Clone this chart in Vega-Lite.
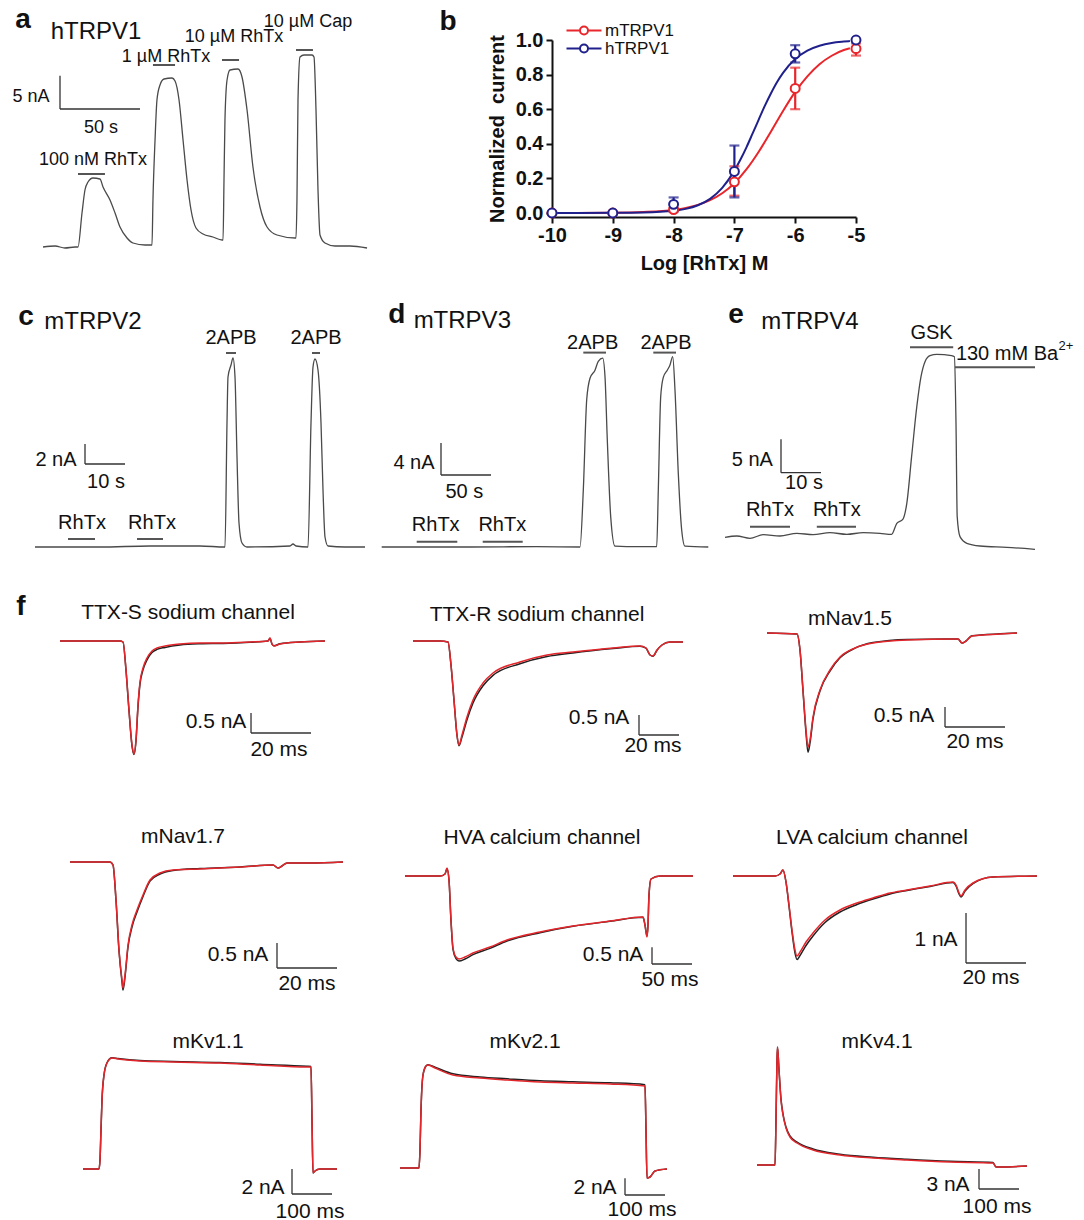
{
"$schema":"https://vega.github.io/schema/vega-lite/v6.json",
"background":"white",
"padding":0,
"spacing":0,
"datasets":{
"a_tr":[{"t":1.9,"i":0.15},{"t":9.4,"i":0.3},{"t":15.6,"i":0},{"t":21.9,"i":0.15},{"t":23.75,"i":0.15},{"t":26.25,"i":5.25},{"t":28.1,"i":8.7},{"t":30,"i":9.9},{"t":33.1,"i":10.5},{"t":37.5,"i":10.35},{"t":39.4,"i":9.15},{"t":43.75,"i":7.2},{"t":46.9,"i":5.25},{"t":50,"i":3.15},{"t":54.4,"i":1.5},{"t":58.1,"i":0.75},{"t":65.6,"i":0.45},{"t":70,"i":0.45},{"t":70.6,"i":7.2},{"t":71.9,"i":16.2},{"t":73.1,"i":22.2},{"t":75,"i":24.45},{"t":77.5,"i":25.35},{"t":82.5,"i":25.5},{"t":84.4,"i":25.05},{"t":86.9,"i":22.2},{"t":89.4,"i":16.2},{"t":91.9,"i":10.2},{"t":94.4,"i":5.7},{"t":97.5,"i":3.0},{"t":101.9,"i":2.1},{"t":108.1,"i":1.65},{"t":113.75,"i":1.2},{"t":114.4,"i":1.2},{"t":115,"i":10.2},{"t":115.6,"i":19.2},{"t":116.9,"i":25.2},{"t":118.75,"i":26.7},{"t":123.75,"i":26.85},{"t":126.25,"i":25.65},{"t":129.4,"i":20.7},{"t":133.1,"i":12.15},{"t":137.5,"i":6.15},{"t":141.9,"i":3.15},{"t":148.1,"i":1.95},{"t":159.4,"i":1.5},{"t":160,"i":1.5},{"t":160.6,"i":7.2},{"t":161.25,"i":22.2},{"t":162.5,"i":28.65},{"t":165,"i":28.95},{"t":170,"i":28.95},{"t":171.25,"i":28.65},{"t":172.5,"i":20.7},{"t":173.75,"i":8.7},{"t":175,"i":1.95},{"t":178.1,"i":0.75},{"t":184.4,"i":0.3},{"t":193.75,"i":0.3},{"t":204.4,"i":0}],
"a_bar":[{"t1":23.75,"t2":40.6,"i1":11.1,"i2":11.1,"k":"drug"},{"t1":70.6,"t2":84.4,"i1":27.45,"i2":27.45,"k":"drug"},{"t1":113.75,"t2":124.4,"i1":28.2,"i2":28.2,"k":"drug"},{"t1":160,"t2":170.6,"i1":29.7,"i2":29.7,"k":"drug"},{"t1":12.5,"t2":12.5,"i1":20.85,"i2":25.85,"k":"scale"},{"t1":12.5,"t2":62.5,"i1":20.85,"i2":20.85,"k":"scale"}],
"a_txt":[{"t":33.1,"i":13.2,"s":"100 nM RhTx","k":"lab"},{"t":78.75,"i":28.65,"s":"1 µM RhTx","k":"lab"},{"t":121.25,"i":31.65,"s":"10 µM RhTx","k":"lab"},{"t":167.5,"i":33.9,"s":"10 µM Cap","k":"lab"},{"t":-5.6,"i":22.65,"s":"5 nA","k":"lab"},{"t":38.1,"i":18.0,"s":"50 s","k":"lab"},{"t":35,"i":32.4,"s":"hTRPV1","k":"ttl"},{"t":-10.6,"i":34.2,"s":"a","k":"let"}],
"b_fit":[{"c":-10,"v":0.0,"ch":"mTRPV1"},{"c":-9,"v":0.002,"ch":"mTRPV1"},{"c":-8.5,"v":0.006,"ch":"mTRPV1"},{"c":-8,"v":0.018,"ch":"mTRPV1"},{"c":-7.8,"v":0.029,"ch":"mTRPV1"},{"c":-7.6,"v":0.047,"ch":"mTRPV1"},{"c":-7.4,"v":0.074,"ch":"mTRPV1"},{"c":-7.2,"v":0.114,"ch":"mTRPV1"},{"c":-7.0,"v":0.172,"ch":"mTRPV1"},{"c":-6.8,"v":0.253,"ch":"mTRPV1"},{"c":-6.6,"v":0.354,"ch":"mTRPV1"},{"c":-6.4,"v":0.47,"ch":"mTRPV1"},{"c":-6.2,"v":0.59,"ch":"mTRPV1"},{"c":-6.0,"v":0.70,"ch":"mTRPV1"},{"c":-5.8,"v":0.79,"ch":"mTRPV1"},{"c":-5.6,"v":0.86,"ch":"mTRPV1"},{"c":-5.4,"v":0.909,"ch":"mTRPV1"},{"c":-5.2,"v":0.942,"ch":"mTRPV1"},{"c":-5.1,"v":0.952,"ch":"mTRPV1"},
{"c":-10,"v":0.0,"ch":"hTRPV1"},{"c":-9,"v":0.001,"ch":"hTRPV1"},{"c":-8.5,"v":0.003,"ch":"hTRPV1"},{"c":-8,"v":0.013,"ch":"hTRPV1"},{"c":-7.8,"v":0.024,"ch":"hTRPV1"},{"c":-7.6,"v":0.045,"ch":"hTRPV1"},{"c":-7.4,"v":0.082,"ch":"hTRPV1"},{"c":-7.2,"v":0.145,"ch":"hTRPV1"},{"c":-7.0,"v":0.245,"ch":"hTRPV1"},{"c":-6.9,"v":0.309,"ch":"hTRPV1"},{"c":-6.8,"v":0.381,"ch":"hTRPV1"},{"c":-6.7,"v":0.46,"ch":"hTRPV1"},{"c":-6.6,"v":0.54,"ch":"hTRPV1"},{"c":-6.5,"v":0.619,"ch":"hTRPV1"},{"c":-6.4,"v":0.691,"ch":"hTRPV1"},{"c":-6.3,"v":0.756,"ch":"hTRPV1"},{"c":-6.2,"v":0.81,"ch":"hTRPV1"},{"c":-6.0,"v":0.89,"ch":"hTRPV1"},{"c":-5.8,"v":0.939,"ch":"hTRPV1"},{"c":-5.6,"v":0.967,"ch":"hTRPV1"},{"c":-5.4,"v":0.983,"ch":"hTRPV1"},{"c":-5.2,"v":0.991,"ch":"hTRPV1"},{"c":-5.1,"v":0.994,"ch":"hTRPV1"}],
"b_pts":[{"c":-10,"v":0.0,"lo":0.0,"hi":0.0,"ch":"mTRPV1"},{"c":-9,"v":0.0,"lo":0.0,"hi":0.0,"ch":"mTRPV1"},{"c":-8,"v":0.02,"lo":0.01,"hi":0.03,"ch":"mTRPV1"},{"c":-7,"v":0.18,"lo":0.1,"hi":0.27,"ch":"mTRPV1"},{"c":-6,"v":0.72,"lo":0.6,"hi":0.84,"ch":"mTRPV1"},{"c":-5,"v":0.95,"lo":0.91,"hi":0.98,"ch":"mTRPV1"},
{"c":-10,"v":0.0,"lo":0.0,"hi":0.0,"ch":"hTRPV1"},{"c":-9,"v":0.0,"lo":0.0,"hi":0.0,"ch":"hTRPV1"},{"c":-8,"v":0.05,"lo":0.01,"hi":0.09,"ch":"hTRPV1"},{"c":-7,"v":0.24,"lo":0.09,"hi":0.39,"ch":"hTRPV1"},{"c":-6,"v":0.92,"lo":0.87,"hi":0.97,"ch":"hTRPV1"},{"c":-5,"v":1.0,"lo":1.0,"hi":1.0,"ch":"hTRPV1"}],
"b_txt":[{"c":-11.71,"v":1.104,"s":"b"}],
"c_tr":[{"t":8.75,"i":0},{"t":25,"i":0},{"t":37.5,"i":0.1},{"t":50,"i":0.1},{"t":56.25,"i":0},{"t":56.75,"i":12.4},{"t":57,"i":17},{"t":57.75,"i":18.2},{"t":58.25,"i":18.9},{"t":58.75,"i":17},{"t":59.25,"i":9},{"t":59.75,"i":2.4},{"t":60.5,"i":0.4},{"t":61.75,"i":0},{"t":72.5,"i":0.1},{"t":73.25,"i":0.3},{"t":74,"i":0.1},{"t":77,"i":0},{"t":77.75,"i":12.4},{"t":78.25,"i":18},{"t":78.75,"i":18.8},{"t":79.5,"i":17.7},{"t":80.25,"i":12.4},{"t":80.75,"i":5.7},{"t":81.25,"i":1},{"t":82,"i":0.1},{"t":86.25,"i":0},{"t":91.25,"i":0}],
"c_bar":[{"t1":56.5,"t2":59,"i1":19.4,"i2":19.4,"k":"drug"},{"t1":78,"t2":80,"i1":19.4,"i2":19.4,"k":"drug"},{"t1":17,"t2":23.75,"i1":0.8,"i2":0.8,"k":"drug"},{"t1":34.25,"t2":40.75,"i1":0.8,"i2":0.8,"k":"drug"},{"t1":21.25,"t2":21.25,"i1":8.3,"i2":10.3,"k":"scale"},{"t1":21.25,"t2":31.25,"i1":8.3,"i2":8.3,"k":"scale"}],
"c_txt":[{"t":57.75,"i":20.9,"s":"2APB","k":"lab"},{"t":79,"i":20.9,"s":"2APB","k":"lab"},{"t":20.5,"i":2.4,"s":"RhTx","k":"lab"},{"t":38,"i":2.4,"s":"RhTx","k":"lab"},{"t":14,"i":8.7,"s":"2 nA","k":"lab"},{"t":26.5,"i":6.5,"s":"10 s","k":"lab"},{"t":23.25,"i":22.5,"s":"mTRPV2","k":"ttl"},{"t":6.5,"i":23.0,"s":"c","k":"let"}],
"d_tr":[{"t":11.7,"i":0},{"t":100,"i":0},{"t":166.7,"i":0.05},{"t":210,"i":0},{"t":213.3,"i":7.1},{"t":216.7,"i":18.4},{"t":220,"i":21.1},{"t":225,"i":22.1},{"t":228.3,"i":23.2},{"t":232.7,"i":23.6},{"t":235,"i":21.3},{"t":237.3,"i":13.4},{"t":240.7,"i":3.8},{"t":245,"i":0.1},{"t":256.7,"i":0.05},{"t":286.7,"i":0.05},{"t":288.3,"i":7.1},{"t":290.7,"i":18.8},{"t":293.3,"i":21.2},{"t":297.3,"i":22.1},{"t":300,"i":22.75},{"t":302.7,"i":23.8},{"t":305,"i":19.6},{"t":308.3,"i":9.2},{"t":311.7,"i":2.1},{"t":315,"i":0.1},{"t":338.3,"i":0}],
"d_bar":[{"t1":213.3,"t2":236,"i1":24.3,"i2":24.3,"k":"drug"},{"t1":283.3,"t2":306,"i1":24.3,"i2":24.3,"k":"drug"},{"t1":46.7,"t2":87.3,"i1":0.66,"i2":0.66,"k":"drug"},{"t1":112.7,"t2":152.7,"i1":0.66,"i2":0.66,"k":"drug"},{"t1":71,"t2":71,"i1":9.0,"i2":13.0,"k":"scale"},{"t1":71,"t2":121,"i1":9.0,"i2":9.0,"k":"scale"}],
"d_txt":[{"t":222.7,"i":25.5,"s":"2APB","k":"lab"},{"t":296,"i":25.5,"s":"2APB","k":"lab"},{"t":65.7,"i":2.75,"s":"RhTx","k":"lab"},{"t":132.3,"i":2.75,"s":"RhTx","k":"lab"},{"t":44,"i":10.5,"s":"4 nA","k":"lab"},{"t":94.3,"i":6.9,"s":"50 s","k":"lab"},{"t":92.3,"i":28.2,"s":"mTRPV3","k":"ttl"},{"t":26.7,"i":29,"s":"d","k":"let"}],
"e_tr":[{"t":1.25,"i":-0.05},{"t":4.2,"i":0.15},{"t":7.5,"i":-0.2},{"t":10.8,"i":0.35},{"t":15,"i":0.15},{"t":19.2,"i":0.55},{"t":23.3,"i":0.35},{"t":27.5,"i":0.65},{"t":31.7,"i":0.4},{"t":35.8,"i":0.65},{"t":40,"i":0.55},{"t":42.9,"i":0.4},{"t":44.2,"i":2.05},{"t":45.7,"i":2.65},{"t":46.7,"i":5.05},{"t":47.9,"i":12.05},{"t":49.2,"i":19.55},{"t":50.25,"i":24.05},{"t":51.25,"i":26.3},{"t":52.5,"i":27.2},{"t":54.2,"i":27.4},{"t":57.9,"i":27.2},{"t":58.6,"i":27.05},{"t":59,"i":17.05},{"t":59.3,"i":3.05},{"t":60,"i":0.05},{"t":61.7,"i":-0.95},{"t":65,"i":-1.35},{"t":71.7,"i":-1.55},{"t":78.75,"i":-1.85}],
"e_bar":[{"t1":47.5,"t2":58.3,"i1":28.45,"i2":28.45,"k":"drug"},{"t1":58.75,"t2":78.75,"i1":25.45,"i2":25.45,"k":"drug"},{"t1":7.5,"t2":17.5,"i1":1.55,"i2":1.55,"k":"drug"},{"t1":24.2,"t2":34,"i1":1.55,"i2":1.55,"k":"drug"},{"t1":15.25,"t2":15.25,"i1":9.65,"i2":14.65,"k":"scale"},{"t1":15.25,"t2":25.25,"i1":9.65,"i2":9.65,"k":"scale"}],
"e_txt":[{"t":52.9,"i":30.55,"s":"GSK","k":"lab"},{"t":71.75,"i":27.45,"s":"130 mM Ba","k":"lab"},{"t":86.5,"i":28.65,"s":"2+","k":"sup"},{"t":12.5,"i":4.05,"s":"RhTx","k":"lab"},{"t":29.2,"i":4.05,"s":"RhTx","k":"lab"},{"t":8.1,"i":11.55,"s":"5 nA","k":"lab"},{"t":21,"i":8.05,"s":"10 s","k":"lab"},{"t":22.5,"i":32.3,"s":"mTRPV4","k":"ttl"},{"t":4,"i":33.3,"s":"e","k":"let"}],
"f1_tr":[{"t":20,"i":0,"s":"Control"},{"t":40,"i":0,"s":"Control"},{"t":41,"i":-0.025,"s":"Control"},{"t":42,"i":-0.73,"s":"Control"},{"t":43,"i":-1.74,"s":"Control"},{"t":44,"i":-2.62,"s":"Control"},{"t":44.67,"i":-2.84,"s":"Control"},{"t":45.33,"i":-2.5,"s":"Control"},{"t":46,"i":-1.64,"s":"Control"},{"t":46.67,"i":-1.07,"s":"Control"},{"t":47.67,"i":-0.72,"s":"Control"},{"t":49,"i":-0.47,"s":"Control"},{"t":50.67,"i":-0.29,"s":"Control"},{"t":52.33,"i":-0.21,"s":"Control"},{"t":55,"i":-0.16,"s":"Control"},{"t":60,"i":-0.1,"s":"Control"},{"t":66.67,"i":-0.07,"s":"Control"},{"t":74.33,"i":-0.06,"s":"Control"},{"t":83.33,"i":-0.03,"s":"Control"},{"t":89.33,"i":0,"s":"Control"},{"t":90,"i":0.07,"s":"Control"},{"t":90.67,"i":-0.08,"s":"Control"},{"t":91.33,"i":-0.12,"s":"Control"},{"t":93.33,"i":-0.07,"s":"Control"},{"t":100,"i":-0.025,"s":"Control"},{"t":108.33,"i":0,"s":"Control"},
{"t":20,"i":0,"s":"RhTx"},{"t":30,"i":0,"s":"RhTx"},{"t":40,"i":0,"s":"RhTx"},{"t":41,"i":-0.025,"s":"RhTx"},{"t":42,"i":-0.725,"s":"RhTx"},{"t":43,"i":-1.725,"s":"RhTx"},{"t":44,"i":-2.6,"s":"RhTx"},{"t":44.67,"i":-2.825,"s":"RhTx"},{"t":45.33,"i":-2.475,"s":"RhTx"},{"t":46,"i":-1.6,"s":"RhTx"},{"t":46.67,"i":-1.025,"s":"RhTx"},{"t":47.67,"i":-0.675,"s":"RhTx"},{"t":49,"i":-0.425,"s":"RhTx"},{"t":50.67,"i":-0.25,"s":"RhTx"},{"t":52.33,"i":-0.175,"s":"RhTx"},{"t":55,"i":-0.125,"s":"RhTx"},{"t":60,"i":-0.075,"s":"RhTx"},{"t":66.67,"i":-0.05,"s":"RhTx"},{"t":74.33,"i":-0.05,"s":"RhTx"},{"t":83.33,"i":-0.025,"s":"RhTx"},{"t":89.33,"i":0,"s":"RhTx"},{"t":90,"i":0.075,"s":"RhTx"},{"t":90.67,"i":-0.075,"s":"RhTx"},{"t":91.33,"i":-0.125,"s":"RhTx"},{"t":93.33,"i":-0.075,"s":"RhTx"},{"t":100,"i":-0.025,"s":"RhTx"},{"t":108.33,"i":0,"s":"RhTx"}],
"f1_bar":[{"t1":83.67,"t2":83.67,"i1":-2.3,"i2":-1.8},{"t1":83.67,"t2":103.67,"i1":-2.3,"i2":-2.3}],
"f1_txt":[{"t":72,"i":-2.025,"s":"0.5 nA","k":"lab"},{"t":93,"i":-2.725,"s":"20 ms","k":"lab"},{"t":62.67,"i":0.7,"s":"TTX-S sodium channel","k":"ttl"},{"t":7,"i":0.85,"s":"f","k":"let"}],
"f2_tr":[{"t":21.5,"i":0,"s":"Control"},{"t":35,"i":0,"s":"Control"},{"t":39,"i":-0.025,"s":"Control"},{"t":40.5,"i":-0.6,"s":"Control"},{"t":42,"i":-1.48,"s":"Control"},{"t":43.5,"i":-2.36,"s":"Control"},{"t":44.5,"i":-2.62,"s":"Control"},{"t":46,"i":-2.4,"s":"Control"},{"t":48.5,"i":-1.97,"s":"Control"},{"t":51.5,"i":-1.55,"s":"Control"},{"t":56.5,"i":-1.12,"s":"Control"},{"t":61.5,"i":-0.86,"s":"Control"},{"t":75,"i":-0.57,"s":"Control"},{"t":88.5,"i":-0.39,"s":"Control"},{"t":101.5,"i":-0.3,"s":"Control"},{"t":121.5,"i":-0.19,"s":"Control"},{"t":135,"i":-0.13,"s":"Control"},{"t":138,"i":-0.18,"s":"Control"},{"t":140,"i":-0.35,"s":"Control"},{"t":141.5,"i":-0.38,"s":"Control"},{"t":143.5,"i":-0.23,"s":"Control"},{"t":146,"i":-0.1,"s":"Control"},{"t":150,"i":-0.025,"s":"Control"},{"t":156.5,"i":-0.025,"s":"Control"},
{"t":21.5,"i":0,"s":"RhTx"},{"t":35,"i":0,"s":"RhTx"},{"t":39,"i":-0.025,"s":"RhTx"},{"t":40.5,"i":-0.6,"s":"RhTx"},{"t":42,"i":-1.475,"s":"RhTx"},{"t":43.5,"i":-2.35,"s":"RhTx"},{"t":44.5,"i":-2.6,"s":"RhTx"},{"t":46,"i":-2.35,"s":"RhTx"},{"t":48.5,"i":-1.9,"s":"RhTx"},{"t":51.5,"i":-1.475,"s":"RhTx"},{"t":56.5,"i":-1.05,"s":"RhTx"},{"t":61.5,"i":-0.8,"s":"RhTx"},{"t":75,"i":-0.525,"s":"RhTx"},{"t":88.5,"i":-0.35,"s":"RhTx"},{"t":101.5,"i":-0.275,"s":"RhTx"},{"t":121.5,"i":-0.175,"s":"RhTx"},{"t":135,"i":-0.125,"s":"RhTx"},{"t":138,"i":-0.175,"s":"RhTx"},{"t":140,"i":-0.35,"s":"RhTx"},{"t":141.5,"i":-0.375,"s":"RhTx"},{"t":143.5,"i":-0.225,"s":"RhTx"},{"t":146,"i":-0.1,"s":"RhTx"},{"t":150,"i":-0.025,"s":"RhTx"},{"t":156.5,"i":-0.025,"s":"RhTx"}],
"f2_bar":[{"t1":134.5,"t2":134.5,"i1":-2.35,"i2":-1.85},{"t1":134.5,"t2":154.5,"i1":-2.35,"i2":-2.35}],
"f2_txt":[{"t":114.5,"i":-1.925,"s":"0.5 nA","k":"lab"},{"t":141.5,"i":-2.625,"s":"20 ms","k":"lab"},{"t":83.5,"i":0.65,"s":"TTX-R sodium channel","k":"ttl"}],
"f3_tr":[{"t":15.67,"i":0,"s":"Control"},{"t":25.67,"i":-0.025,"s":"Control"},{"t":26.67,"i":-0.43,"s":"Control"},{"t":27.67,"i":-1.45,"s":"Control"},{"t":28.67,"i":-2.5,"s":"Control"},{"t":29.33,"i":-2.98,"s":"Control"},{"t":30,"i":-2.75,"s":"Control"},{"t":31,"i":-2.15,"s":"Control"},{"t":33.33,"i":-1.45,"s":"Control"},{"t":36.67,"i":-0.95,"s":"Control"},{"t":40,"i":-0.62,"s":"Control"},{"t":45,"i":-0.38,"s":"Control"},{"t":51,"i":-0.24,"s":"Control"},{"t":62.33,"i":-0.16,"s":"Control"},{"t":79.33,"i":-0.15,"s":"Control"},{"t":80.67,"i":-0.25,"s":"Control"},{"t":82,"i":-0.2,"s":"Control"},{"t":84,"i":-0.07,"s":"Control"},{"t":93.33,"i":-0.02,"s":"Control"},{"t":99,"i":0,"s":"Control"},
{"t":15.67,"i":0,"s":"RhTx"},{"t":25.67,"i":-0.025,"s":"RhTx"},{"t":26.67,"i":-0.425,"s":"RhTx"},{"t":27.67,"i":-1.425,"s":"RhTx"},{"t":28.67,"i":-2.425,"s":"RhTx"},{"t":29.33,"i":-2.85,"s":"RhTx"},{"t":30,"i":-2.675,"s":"RhTx"},{"t":31,"i":-2.1,"s":"RhTx"},{"t":33.33,"i":-1.425,"s":"RhTx"},{"t":36.67,"i":-0.925,"s":"RhTx"},{"t":40,"i":-0.6,"s":"RhTx"},{"t":45,"i":-0.375,"s":"RhTx"},{"t":51,"i":-0.25,"s":"RhTx"},{"t":62.33,"i":-0.175,"s":"RhTx"},{"t":79.33,"i":-0.15,"s":"RhTx"},{"t":80.67,"i":-0.25,"s":"RhTx"},{"t":82,"i":-0.2,"s":"RhTx"},{"t":84,"i":-0.075,"s":"RhTx"},{"t":93.33,"i":-0.025,"s":"RhTx"},{"t":99,"i":0,"s":"RhTx"}],
"f3_bar":[{"t1":75,"t2":75,"i1":-2.35,"i2":-1.85},{"t1":75,"t2":95,"i1":-2.35,"i2":-2.35}],
"f3_txt":[{"t":61.33,"i":-2.075,"s":"0.5 nA","k":"lab"},{"t":85,"i":-2.725,"s":"20 ms","k":"lab"},{"t":43.33,"i":0.35,"s":"mNav1.5","k":"ttl"}],
"f4_tr":[{"t":23.33,"i":0,"s":"Control"},{"t":36.67,"i":0,"s":"Control"},{"t":37.67,"i":-0.06,"s":"Control"},{"t":38.67,"i":-0.77,"s":"Control"},{"t":39.67,"i":-1.78,"s":"Control"},{"t":40.67,"i":-2.4,"s":"Control"},{"t":41,"i":-2.56,"s":"Control"},{"t":41.67,"i":-2.3,"s":"Control"},{"t":42.67,"i":-1.7,"s":"Control"},{"t":44,"i":-1.3,"s":"Control"},{"t":45.67,"i":-1.0,"s":"Control"},{"t":47.67,"i":-0.69,"s":"Control"},{"t":50,"i":-0.38,"s":"Control"},{"t":53.33,"i":-0.24,"s":"Control"},{"t":57.67,"i":-0.17,"s":"Control"},{"t":66.67,"i":-0.13,"s":"Control"},{"t":80,"i":-0.1,"s":"Control"},{"t":91,"i":-0.06,"s":"Control"},{"t":92.67,"i":-0.12,"s":"Control"},{"t":94,"i":-0.08,"s":"Control"},{"t":95.67,"i":-0.02,"s":"Control"},{"t":103.33,"i":-0.02,"s":"Control"},{"t":114.33,"i":0,"s":"Control"},
{"t":23.33,"i":0,"s":"RhTx"},{"t":36.67,"i":0,"s":"RhTx"},{"t":37.67,"i":-0.06,"s":"RhTx"},{"t":38.67,"i":-0.76,"s":"RhTx"},{"t":39.67,"i":-1.76,"s":"RhTx"},{"t":40.67,"i":-2.36,"s":"RhTx"},{"t":41,"i":-2.52,"s":"RhTx"},{"t":41.67,"i":-2.26,"s":"RhTx"},{"t":42.67,"i":-1.66,"s":"RhTx"},{"t":44,"i":-1.26,"s":"RhTx"},{"t":45.67,"i":-0.96,"s":"RhTx"},{"t":47.67,"i":-0.66,"s":"RhTx"},{"t":50,"i":-0.36,"s":"RhTx"},{"t":53.33,"i":-0.22,"s":"RhTx"},{"t":57.67,"i":-0.16,"s":"RhTx"},{"t":66.67,"i":-0.14,"s":"RhTx"},{"t":80,"i":-0.1,"s":"RhTx"},{"t":91,"i":-0.06,"s":"RhTx"},{"t":92.67,"i":-0.12,"s":"RhTx"},{"t":94,"i":-0.08,"s":"RhTx"},{"t":95.67,"i":-0.02,"s":"RhTx"},{"t":103.33,"i":-0.02,"s":"RhTx"},{"t":114.33,"i":0,"s":"RhTx"}],
"f4_bar":[{"t1":92.33,"t2":92.33,"i1":-2.12,"i2":-1.62},{"t1":92.33,"t2":112.33,"i1":-2.12,"i2":-2.12}],
"f4_txt":[{"t":79.33,"i":-1.86,"s":"0.5 nA","k":"lab"},{"t":102.33,"i":-2.44,"s":"20 ms","k":"lab"},{"t":61,"i":0.5,"s":"mNav1.7","k":"ttl"}],
"f5_tr":[{"t":43.75,"i":0,"s":"Control"},{"t":87.5,"i":0,"s":"Control"},{"t":93.75,"i":0.06,"s":"Control"},{"t":96.25,"i":0.22,"s":"Control"},{"t":98.75,"i":-0.12,"s":"Control"},{"t":101.25,"i":-1.35,"s":"Control"},{"t":103.75,"i":-2.2,"s":"Control"},{"t":107.5,"i":-2.48,"s":"Control"},{"t":111.25,"i":-2.55,"s":"Control"},{"t":118.75,"i":-2.49,"s":"Control"},{"t":128.75,"i":-2.36,"s":"Control"},{"t":150,"i":-2.17,"s":"Control"},{"t":171.25,"i":-1.95,"s":"Control"},{"t":212.5,"i":-1.7,"s":"Control"},{"t":253.75,"i":-1.51,"s":"Control"},{"t":300,"i":-1.36,"s":"Control"},{"t":341.25,"i":-1.24,"s":"Control"},{"t":343.75,"i":-1.47,"s":"Control"},{"t":346.25,"i":-1.8,"s":"Control"},{"t":347.5,"i":-1.47,"s":"Control"},{"t":348.75,"i":-0.57,"s":"Control"},{"t":351.25,"i":-0.09,"s":"Control"},{"t":362.5,"i":0,"s":"Control"},{"t":403.75,"i":0,"s":"Control"},
{"t":43.75,"i":0,"s":"RhTx"},{"t":87.5,"i":0,"s":"RhTx"},{"t":93.75,"i":0.06,"s":"RhTx"},{"t":96.25,"i":0.24,"s":"RhTx"},{"t":98.75,"i":-0.12,"s":"RhTx"},{"t":101.25,"i":-1.32,"s":"RhTx"},{"t":103.75,"i":-2.16,"s":"RhTx"},{"t":107.5,"i":-2.43,"s":"RhTx"},{"t":111.25,"i":-2.49,"s":"RhTx"},{"t":118.75,"i":-2.43,"s":"RhTx"},{"t":128.75,"i":-2.31,"s":"RhTx"},{"t":150,"i":-2.13,"s":"RhTx"},{"t":171.25,"i":-1.92,"s":"RhTx"},{"t":212.5,"i":-1.68,"s":"RhTx"},{"t":253.75,"i":-1.5,"s":"RhTx"},{"t":300,"i":-1.35,"s":"RhTx"},{"t":341.25,"i":-1.23,"s":"RhTx"},{"t":343.75,"i":-1.47,"s":"RhTx"},{"t":346.25,"i":-1.83,"s":"RhTx"},{"t":347.5,"i":-1.47,"s":"RhTx"},{"t":348.75,"i":-0.57,"s":"RhTx"},{"t":351.25,"i":-0.09,"s":"RhTx"},{"t":362.5,"i":0,"s":"RhTx"},{"t":403.75,"i":0,"s":"RhTx"}],
"f5_bar":[{"t1":352.5,"t2":352.5,"i1":-2.64,"i2":-2.14},{"t1":352.5,"t2":402.5,"i1":-2.64,"i2":-2.64}],
"f5_txt":[{"t":303.75,"i":-2.37,"s":"0.5 nA","k":"lab"},{"t":375,"i":-3.12,"s":"50 ms","k":"lab"},{"t":215,"i":1.14,"s":"HVA calcium channel","k":"ttl"}],
"f6_tr":[{"t":4.33,"i":0,"s":"Control"},{"t":18.33,"i":0,"s":"Control"},{"t":20,"i":0.04,"s":"Control"},{"t":21,"i":0.12,"s":"Control"},{"t":22,"i":-0.12,"s":"Control"},{"t":23,"i":-0.6,"s":"Control"},{"t":24,"i":-1.12,"s":"Control"},{"t":25,"i":-1.54,"s":"Control"},{"t":25.67,"i":-1.67,"s":"Control"},{"t":26.67,"i":-1.59,"s":"Control"},{"t":28.67,"i":-1.39,"s":"Control"},{"t":31,"i":-1.2,"s":"Control"},{"t":35,"i":-0.93,"s":"Control"},{"t":40,"i":-0.72,"s":"Control"},{"t":45.67,"i":-0.57,"s":"Control"},{"t":51,"i":-0.46,"s":"Control"},{"t":56.67,"i":-0.36,"s":"Control"},{"t":62.33,"i":-0.29,"s":"Control"},{"t":70,"i":-0.21,"s":"Control"},{"t":77.67,"i":-0.13,"s":"Control"},{"t":78.67,"i":-0.2,"s":"Control"},{"t":79.67,"i":-0.36,"s":"Control"},{"t":80.33,"i":-0.42,"s":"Control"},{"t":81.67,"i":-0.3,"s":"Control"},{"t":84.33,"i":-0.15,"s":"Control"},{"t":91,"i":-0.02,"s":"Control"},{"t":105.67,"i":0,"s":"Control"},
{"t":4.33,"i":0,"s":"RhTx"},{"t":18.33,"i":0,"s":"RhTx"},{"t":20,"i":0.04,"s":"RhTx"},{"t":21,"i":0.12,"s":"RhTx"},{"t":22,"i":-0.12,"s":"RhTx"},{"t":23,"i":-0.58,"s":"RhTx"},{"t":24,"i":-1.08,"s":"RhTx"},{"t":25,"i":-1.48,"s":"RhTx"},{"t":25.67,"i":-1.6,"s":"RhTx"},{"t":26.67,"i":-1.52,"s":"RhTx"},{"t":28.67,"i":-1.32,"s":"RhTx"},{"t":31,"i":-1.14,"s":"RhTx"},{"t":35,"i":-0.88,"s":"RhTx"},{"t":40,"i":-0.68,"s":"RhTx"},{"t":45.67,"i":-0.54,"s":"RhTx"},{"t":51,"i":-0.44,"s":"RhTx"},{"t":56.67,"i":-0.34,"s":"RhTx"},{"t":62.33,"i":-0.28,"s":"RhTx"},{"t":70,"i":-0.2,"s":"RhTx"},{"t":77.67,"i":-0.12,"s":"RhTx"},{"t":78.67,"i":-0.18,"s":"RhTx"},{"t":79.67,"i":-0.34,"s":"RhTx"},{"t":80.33,"i":-0.4,"s":"RhTx"},{"t":81.67,"i":-0.28,"s":"RhTx"},{"t":84.33,"i":-0.14,"s":"RhTx"},{"t":91,"i":-0.02,"s":"RhTx"},{"t":105.67,"i":0,"s":"RhTx"}],
"f6_bar":[{"t1":82,"t2":82,"i1":-1.74,"i2":-0.74},{"t1":82,"t2":102,"i1":-1.74,"i2":-1.74}],
"f6_txt":[{"t":72,"i":-1.28,"s":"1 nA","k":"lab"},{"t":90.33,"i":-2.04,"s":"20 ms","k":"lab"},{"t":50.67,"i":0.76,"s":"LVA calcium channel","k":"ttl"}],
"f7_tr":[{"t":207.5,"i":0,"s":"Control"},{"t":247.5,"i":0,"s":"Control"},{"t":250,"i":0.72,"s":"Control"},{"t":252.5,"i":3.12,"s":"Control"},{"t":255,"i":5.52,"s":"Control"},{"t":260,"i":7.52,"s":"Control"},{"t":267.5,"i":8.5,"s":"Control"},{"t":280,"i":8.9,"s":"Control"},{"t":295,"i":8.84,"s":"Control"},{"t":350,"i":8.68,"s":"Control"},{"t":432.5,"i":8.6,"s":"Control"},{"t":550,"i":8.52,"s":"Control"},{"t":650,"i":8.38,"s":"Control"},{"t":767.5,"i":8.22,"s":"Control"},{"t":777.5,"i":8.2,"s":"Control"},{"t":780,"i":3.92,"s":"Control"},{"t":782.5,"i":-0.32,"s":"Control"},{"t":787.5,"i":-0.16,"s":"Control"},{"t":800,"i":0,"s":"Control"},{"t":842.5,"i":0,"s":"Control"},
{"t":207.5,"i":0,"s":"RhTx"},{"t":247.5,"i":0,"s":"RhTx"},{"t":250,"i":0.72,"s":"RhTx"},{"t":252.5,"i":3.12,"s":"RhTx"},{"t":255,"i":5.52,"s":"RhTx"},{"t":260,"i":7.52,"s":"RhTx"},{"t":267.5,"i":8.48,"s":"RhTx"},{"t":280,"i":8.88,"s":"RhTx"},{"t":295,"i":8.8,"s":"RhTx"},{"t":350,"i":8.64,"s":"RhTx"},{"t":432.5,"i":8.56,"s":"RhTx"},{"t":550,"i":8.48,"s":"RhTx"},{"t":650,"i":8.32,"s":"RhTx"},{"t":767.5,"i":8.16,"s":"RhTx"},{"t":777.5,"i":8.16,"s":"RhTx"},{"t":780,"i":3.92,"s":"RhTx"},{"t":782.5,"i":-0.32,"s":"RhTx"},{"t":787.5,"i":-0.16,"s":"RhTx"},{"t":800,"i":0,"s":"RhTx"},{"t":842.5,"i":0,"s":"RhTx"}],
"f7_bar":[{"t1":730,"t2":730,"i1":-2.0,"i2":0},{"t1":730,"t2":830,"i1":-2.0,"i2":-2.0}],
"f7_txt":[{"t":657.5,"i":-1.52,"s":"2 nA","k":"lab"},{"t":775,"i":-3.44,"s":"100 ms","k":"lab"},{"t":520,"i":10.16,"s":"mKv1.1","k":"ttl"}],
"f8_tr":[{"t":75,"i":0,"s":"Control"},{"t":122.5,"i":0,"s":"Control"},{"t":125,"i":2.16,"s":"Control"},{"t":127.5,"i":6.96,"s":"Control"},{"t":132.5,"i":11.16,"s":"Control"},{"t":140,"i":12.24,"s":"Control"},{"t":145,"i":12.4,"s":"Control"},{"t":162.5,"i":12.1,"s":"Control"},{"t":207.5,"i":11.3,"s":"Control"},{"t":275,"i":10.92,"s":"Control"},{"t":342.5,"i":10.7,"s":"Control"},{"t":425,"i":10.46,"s":"Control"},{"t":507.5,"i":10.34,"s":"Control"},{"t":600,"i":10.22,"s":"Control"},{"t":687.5,"i":10.0,"s":"Control"},{"t":690,"i":4.56,"s":"Control"},{"t":692.5,"i":-1.2,"s":"Control"},{"t":700,"i":-1.08,"s":"Control"},{"t":712.5,"i":-0.36,"s":"Control"},{"t":742.5,"i":-0.12,"s":"Control"},
{"t":75,"i":0,"s":"RhTx"},{"t":122.5,"i":0,"s":"RhTx"},{"t":125,"i":2.16,"s":"RhTx"},{"t":127.5,"i":6.96,"s":"RhTx"},{"t":132.5,"i":11.16,"s":"RhTx"},{"t":140,"i":12.24,"s":"RhTx"},{"t":145,"i":12.36,"s":"RhTx"},{"t":162.5,"i":12,"s":"RhTx"},{"t":207.5,"i":11.16,"s":"RhTx"},{"t":275,"i":10.8,"s":"RhTx"},{"t":342.5,"i":10.56,"s":"RhTx"},{"t":425,"i":10.32,"s":"RhTx"},{"t":507.5,"i":10.2,"s":"RhTx"},{"t":600,"i":10.08,"s":"RhTx"},{"t":687.5,"i":9.84,"s":"RhTx"},{"t":690,"i":4.56,"s":"RhTx"},{"t":692.5,"i":-1.2,"s":"RhTx"},{"t":700,"i":-1.08,"s":"RhTx"},{"t":712.5,"i":-0.36,"s":"RhTx"},{"t":742.5,"i":-0.12,"s":"RhTx"}],
"f8_bar":[{"t1":637.5,"t2":637.5,"i1":-3.24,"i2":-1.24},{"t1":637.5,"t2":737.5,"i1":-3.24,"i2":-3.24}],
"f8_txt":[{"t":562.5,"i":-2.4,"s":"2 nA","k":"lab"},{"t":680,"i":-5.04,"s":"100 ms","k":"lab"},{"t":387.5,"i":15.12,"s":"mKv2.1","k":"ttl"}],
"f9_tr":[{"t":92.5,"i":0,"s":"Control"},{"t":137.5,"i":0,"s":"Control"},{"t":140,"i":6.75,"s":"Control"},{"t":142.5,"i":15.75,"s":"Control"},{"t":143.75,"i":17.7,"s":"Control"},{"t":147.5,"i":14.25,"s":"Control"},{"t":152.5,"i":9.9,"s":"Control"},{"t":157.5,"i":7.65,"s":"Control"},{"t":165,"i":5.7,"s":"Control"},{"t":175,"i":4.35,"s":"Control"},{"t":192.5,"i":3.45,"s":"Control"},{"t":232.5,"i":2.4,"s":"Control"},{"t":300,"i":1.62,"s":"Control"},{"t":382.5,"i":1.17,"s":"Control"},{"t":467.5,"i":0.86,"s":"Control"},{"t":575,"i":0.55,"s":"Control"},{"t":682.5,"i":0.38,"s":"Control"},{"t":690,"i":-0.3,"s":"Control"},{"t":700,"i":-0.3,"s":"Control"},{"t":767.5,"i":-0.15,"s":"Control"},
{"t":92.5,"i":0,"s":"RhTx"},{"t":137.5,"i":0,"s":"RhTx"},{"t":140,"i":6.75,"s":"RhTx"},{"t":142.5,"i":15.75,"s":"RhTx"},{"t":143.75,"i":17.7,"s":"RhTx"},{"t":147.5,"i":14.25,"s":"RhTx"},{"t":152.5,"i":9.75,"s":"RhTx"},{"t":157.5,"i":7.5,"s":"RhTx"},{"t":165,"i":5.55,"s":"RhTx"},{"t":175,"i":4.2,"s":"RhTx"},{"t":192.5,"i":3.3,"s":"RhTx"},{"t":232.5,"i":2.25,"s":"RhTx"},{"t":300,"i":1.5,"s":"RhTx"},{"t":382.5,"i":1.05,"s":"RhTx"},{"t":467.5,"i":0.75,"s":"RhTx"},{"t":575,"i":0.45,"s":"RhTx"},{"t":682.5,"i":0.3,"s":"RhTx"},{"t":690,"i":-0.3,"s":"RhTx"},{"t":700,"i":-0.3,"s":"RhTx"},{"t":767.5,"i":-0.15,"s":"RhTx"}],
"f9_bar":[{"t1":647.5,"t2":647.5,"i1":-3.6,"i2":-0.6},{"t1":647.5,"t2":747.5,"i1":-3.6,"i2":-3.6}],
"f9_txt":[{"t":570,"i":-3.0,"s":"3 nA","k":"lab"},{"t":692.5,"i":-6.3,"s":"100 ms","k":"lab"},{"t":392.5,"i":18.45,"s":"mKv4.1","k":"ttl"}]
},
"vconcat":[
{"hconcat":[
{"width":552,"height":290,"layer":[
{"data":{"name":"a_tr"},"mark":{"type":"line","color":"#4a4a4a","strokeWidth":1.3,"interpolate":"monotone"},"encoding":{"x":{"field":"t","type":"quantitative","scale":{"domain":[-25,320],"nice":false,"zero":false},"axis":null},"y":{"field":"i","type":"quantitative","scale":{"domain":[-6.3,37.2],"nice":false,"zero":false},"axis":null}}},
{"data":{"name":"a_bar"},"transform":[{"filter":"datum.k=='drug'"}],"mark":{"type":"rule","color":"#555555","strokeWidth":2},"encoding":{"x":{"field":"t1","type":"quantitative","axis":null},"x2":{"field":"t2"},"y":{"field":"i1","type":"quantitative","axis":null},"y2":{"field":"i2"}}},
{"data":{"name":"a_bar"},"transform":[{"filter":"datum.k=='scale'"}],"mark":{"type":"rule","color":"#333333","strokeWidth":1.3},"encoding":{"x":{"field":"t1","type":"quantitative","axis":null},"x2":{"field":"t2"},"y":{"field":"i1","type":"quantitative","axis":null},"y2":{"field":"i2"}}},
{"data":{"name":"a_txt"},"transform":[{"filter":"datum.k=='lab'"}],"mark":{"type":"text","fontSize":18,"color":"#111111"},"encoding":{"x":{"field":"t","type":"quantitative","axis":null},"y":{"field":"i","type":"quantitative","axis":null},"text":{"field":"s"}}},
{"data":{"name":"a_txt"},"transform":[{"filter":"datum.k=='ttl'"}],"mark":{"type":"text","fontSize":24,"color":"#111111"},"encoding":{"x":{"field":"t","type":"quantitative","axis":null},"y":{"field":"i","type":"quantitative","axis":null},"text":{"field":"s"}}},
{"data":{"name":"a_txt"},"transform":[{"filter":"datum.k=='let'"}],"mark":{"type":"text","fontSize":28,"fontWeight":"bold","color":"#111111"},"encoding":{"x":{"field":"t","type":"quantitative","axis":null},"y":{"field":"i","type":"quantitative","axis":null},"text":{"field":"s"}}}
]},
{"width":304,"height":217,"layer":[
{"data":{"name":"b_fit"},"mark":{"type":"line","strokeWidth":2,"interpolate":"monotone"},"encoding":{
"x":{"field":"c","type":"quantitative","title":"Log [RhTx] M","scale":{"domain":[-10,-5],"nice":false,"zero":false},"axis":{"values":[-10,-9,-8,-7,-6,-5],"labelExpr":"'' + datum.value","title":"Log [RhTx] M","grid":false,"domainColor":"#111111","domainWidth":2,"tickColor":"#111111","tickWidth":2,"tickSize":6,"labelFont":"Liberation Sans","labelFontSize":20,"labelFontWeight":"bold","labelColor":"#111111","labelPadding":2,"labelFlush":false,"labelOverlap":false,"titleFont":"Liberation Sans","titleFontSize":20,"titleFontWeight":"bold","titleColor":"#111111","titlePadding":8}},
"y":{"field":"v","type":"quantitative","title":"Normalized\u00a0 current","scale":{"domain":[-0.0231,1.0],"range":[217,40],"nice":false,"zero":false},"axis":{"values":[0,0.2,0.4,0.6,0.8,1.0],"format":".1f","title":"Normalized\u00a0 current","grid":false,"domainColor":"#111111","domainWidth":2,"tickColor":"#111111","tickWidth":2,"tickSize":6,"labelFont":"Liberation Sans","labelFontSize":20,"labelFontWeight":"bold","labelColor":"#111111","labelPadding":3,"labelFlush":false,"labelOverlap":false,"titleFont":"Liberation Sans","titleFontSize":20,"titleFontWeight":"bold","titleColor":"#111111","titlePadding":8}},
"color":{"field":"ch","type":"nominal","scale":{"domain":["mTRPV1","hTRPV1"],"range":["#e8262b","#20208c"]},"legend":{"orient":"none","legendX":575.5,"legendY":22,"title":null,"symbolType":"M-2.5,0H-0.571M0.571,0H2.5M0.571,0A0.571,0.571,0,1,1,-0.571,0A0.571,0.571,0,1,1,0.571,0","symbolSize":196,"symbolStrokeWidth":2,"symbolOpacity":1,"labelFontSize":17,"labelFont":"Liberation Sans","labelColor":"#111111","labelOffset":12.5,"rowPadding":0,"padding":0,"encode":{"symbols":{"update":{"fillOpacity":{"value":0},"strokeOpacity":{"value":1},"opacity":{"value":1},"strokeWidth":{"value":2}}}}}}}},
{"data":{"name":"b_pts"},"transform":[{"filter":"datum.hi > datum.lo"}],"mark":{"type":"errorbar","ticks":true,"size":10,"thickness":2.2},"encoding":{"x":{"field":"c","type":"quantitative","title":"Log [RhTx] M"},"y":{"field":"lo","type":"quantitative","title":"Normalized\u00a0 current"},"y2":{"field":"hi"},"color":{"field":"ch","type":"nominal"}}},
{"data":{"name":"b_pts"},"mark":{"type":"point","filled":false,"fill":"white","size":80,"strokeWidth":2,"opacity":1},"encoding":{"x":{"field":"c","type":"quantitative","title":"Log [RhTx] M"},"y":{"field":"v","type":"quantitative","title":"Normalized\u00a0 current"},"color":{"field":"ch","type":"nominal"}}},
{"data":{"name":"b_txt"},"mark":{"type":"text","fontSize":28,"fontWeight":"bold","color":"#111111"},"encoding":{"x":{"field":"c","type":"quantitative","title":"Log [RhTx] M"},"y":{"field":"v","type":"quantitative","title":"Normalized\u00a0 current"},"text":{"field":"s"}}}
]}
],"spacing":0,"bounds":"flush"},
{"hconcat":[
{"width":370,"height":270,"layer":[
{"data":{"name":"c_tr"},"mark":{"type":"line","color":"#4a4a4a","strokeWidth":1.3,"interpolate":"monotone"},"encoding":{"x":{"field":"t","type":"quantitative","scale":{"domain":[0,92.5],"nice":false,"zero":false},"axis":null},"y":{"field":"i","type":"quantitative","scale":{"domain":[-1.3,25.7],"nice":false,"zero":false},"axis":null}}},
{"data":{"name":"c_bar"},"transform":[{"filter":"datum.k=='drug'"}],"mark":{"type":"rule","color":"#555555","strokeWidth":2},"encoding":{"x":{"field":"t1","type":"quantitative","axis":null},"x2":{"field":"t2"},"y":{"field":"i1","type":"quantitative","axis":null},"y2":{"field":"i2"}}},
{"data":{"name":"c_bar"},"transform":[{"filter":"datum.k=='scale'"}],"mark":{"type":"rule","color":"#333333","strokeWidth":1.3},"encoding":{"x":{"field":"t1","type":"quantitative","axis":null},"x2":{"field":"t2"},"y":{"field":"i1","type":"quantitative","axis":null},"y2":{"field":"i2"}}},
{"data":{"name":"c_txt"},"transform":[{"filter":"datum.k=='lab'"}],"mark":{"type":"text","fontSize":20,"color":"#111111"},"encoding":{"x":{"field":"t","type":"quantitative","axis":null},"y":{"field":"i","type":"quantitative","axis":null},"text":{"field":"s"}}},
{"data":{"name":"c_txt"},"transform":[{"filter":"datum.k=='ttl'"}],"mark":{"type":"text","fontSize":24,"color":"#111111"},"encoding":{"x":{"field":"t","type":"quantitative","axis":null},"y":{"field":"i","type":"quantitative","axis":null},"text":{"field":"s"}}},
{"data":{"name":"c_txt"},"transform":[{"filter":"datum.k=='let'"}],"mark":{"type":"text","fontSize":28,"fontWeight":"bold","color":"#111111"},"encoding":{"x":{"field":"t","type":"quantitative","axis":null},"y":{"field":"i","type":"quantitative","axis":null},"text":{"field":"s"}}}
]},
{"width":350,"height":270,"layer":[
{"data":{"name":"d_tr"},"mark":{"type":"line","color":"#4a4a4a","strokeWidth":1.3,"interpolate":"monotone"},"encoding":{"x":{"field":"t","type":"quantitative","scale":{"domain":[0,350],"nice":false,"zero":false},"axis":null},"y":{"field":"i","type":"quantitative","scale":{"domain":[-1.625,32.125],"nice":false,"zero":false},"axis":null}}},
{"data":{"name":"d_bar"},"transform":[{"filter":"datum.k=='drug'"}],"mark":{"type":"rule","color":"#555555","strokeWidth":2},"encoding":{"x":{"field":"t1","type":"quantitative","axis":null},"x2":{"field":"t2"},"y":{"field":"i1","type":"quantitative","axis":null},"y2":{"field":"i2"}}},
{"data":{"name":"d_bar"},"transform":[{"filter":"datum.k=='scale'"}],"mark":{"type":"rule","color":"#333333","strokeWidth":1.3},"encoding":{"x":{"field":"t1","type":"quantitative","axis":null},"x2":{"field":"t2"},"y":{"field":"i1","type":"quantitative","axis":null},"y2":{"field":"i2"}}},
{"data":{"name":"d_txt"},"transform":[{"filter":"datum.k=='lab'"}],"mark":{"type":"text","fontSize":20,"color":"#111111"},"encoding":{"x":{"field":"t","type":"quantitative","axis":null},"y":{"field":"i","type":"quantitative","axis":null},"text":{"field":"s"}}},
{"data":{"name":"d_txt"},"transform":[{"filter":"datum.k=='ttl'"}],"mark":{"type":"text","fontSize":24,"color":"#111111"},"encoding":{"x":{"field":"t","type":"quantitative","axis":null},"y":{"field":"i","type":"quantitative","axis":null},"text":{"field":"s"}}},
{"data":{"name":"d_txt"},"transform":[{"filter":"datum.k=='let'"}],"mark":{"type":"text","fontSize":28,"fontWeight":"bold","color":"#111111"},"encoding":{"x":{"field":"t","type":"quantitative","axis":null},"y":{"field":"i","type":"quantitative","axis":null},"text":{"field":"s"}}}
]},
{"width":364,"height":270,"layer":[
{"data":{"name":"e_tr"},"mark":{"type":"line","color":"#4a4a4a","strokeWidth":1.3,"interpolate":"monotone"},"encoding":{"x":{"field":"t","type":"quantitative","scale":{"domain":[0,91],"nice":false,"zero":false},"axis":null},"y":{"field":"i","type":"quantitative","scale":{"domain":[-3.45,37.05],"nice":false,"zero":false},"axis":null}}},
{"data":{"name":"e_bar"},"transform":[{"filter":"datum.k=='drug'"}],"mark":{"type":"rule","color":"#555555","strokeWidth":2},"encoding":{"x":{"field":"t1","type":"quantitative","axis":null},"x2":{"field":"t2"},"y":{"field":"i1","type":"quantitative","axis":null},"y2":{"field":"i2"}}},
{"data":{"name":"e_bar"},"transform":[{"filter":"datum.k=='scale'"}],"mark":{"type":"rule","color":"#333333","strokeWidth":1.3},"encoding":{"x":{"field":"t1","type":"quantitative","axis":null},"x2":{"field":"t2"},"y":{"field":"i1","type":"quantitative","axis":null},"y2":{"field":"i2"}}},
{"data":{"name":"e_txt"},"transform":[{"filter":"datum.k=='lab'"}],"mark":{"type":"text","fontSize":20,"color":"#111111"},"encoding":{"x":{"field":"t","type":"quantitative","axis":null},"y":{"field":"i","type":"quantitative","axis":null},"text":{"field":"s"}}},
{"data":{"name":"e_txt"},"transform":[{"filter":"datum.k=='sup'"}],"mark":{"type":"text","fontSize":13,"color":"#111111"},"encoding":{"x":{"field":"t","type":"quantitative","axis":null},"y":{"field":"i","type":"quantitative","axis":null},"text":{"field":"s"}}},
{"data":{"name":"e_txt"},"transform":[{"filter":"datum.k=='ttl'"}],"mark":{"type":"text","fontSize":24,"color":"#111111"},"encoding":{"x":{"field":"t","type":"quantitative","axis":null},"y":{"field":"i","type":"quantitative","axis":null},"text":{"field":"s"}}},
{"data":{"name":"e_txt"},"transform":[{"filter":"datum.k=='let'"}],"mark":{"type":"text","fontSize":28,"fontWeight":"bold","color":"#111111"},"encoding":{"x":{"field":"t","type":"quantitative","axis":null},"y":{"field":"i","type":"quantitative","axis":null},"text":{"field":"s"}}}
]}
],"spacing":0,"bounds":"flush"},
{"hconcat":[
{"width":370,"height":230,"layer":[
{"data":{"name":"f1_tr"},"mark":{"type":"line","strokeWidth":1.5,"interpolate":"monotone"},"encoding":{"x":{"field":"t","type":"quantitative","scale":{"domain":[0,123.33],"nice":false,"zero":false},"axis":null},"y":{"field":"i","type":"quantitative","scale":{"domain":[-3.725,2.025],"nice":false,"zero":false},"axis":null},"stroke":{"field":"s","type":"nominal","scale":{"domain":["Control","RhTx"],"range":["#222222","#e3262b"]},"legend":null}}},
{"data":{"name":"f1_bar"},"mark":{"type":"rule","color":"#333333","strokeWidth":1.3},"encoding":{"x":{"field":"t1","type":"quantitative","axis":null},"x2":{"field":"t2"},"y":{"field":"i1","type":"quantitative","axis":null},"y2":{"field":"i2"}}},
{"data":{"name":"f1_txt"},"transform":[{"filter":"datum.k=='lab'"}],"mark":{"type":"text","fontSize":21,"color":"#111111"},"encoding":{"x":{"field":"t","type":"quantitative","axis":null},"y":{"field":"i","type":"quantitative","axis":null},"text":{"field":"s"}}},
{"data":{"name":"f1_txt"},"transform":[{"filter":"datum.k=='ttl'"}],"mark":{"type":"text","fontSize":21,"color":"#111111"},"encoding":{"x":{"field":"t","type":"quantitative","axis":null},"y":{"field":"i","type":"quantitative","axis":null},"text":{"field":"s"}}},
{"data":{"name":"f1_txt"},"transform":[{"filter":"datum.k=='let'"}],"mark":{"type":"text","fontSize":28,"fontWeight":"bold","color":"#111111"},"encoding":{"x":{"field":"t","type":"quantitative","axis":null},"y":{"field":"i","type":"quantitative","axis":null},"text":{"field":"s"}}}
]},
{"width":350,"height":230,"layer":[
{"data":{"name":"f2_tr"},"mark":{"type":"line","strokeWidth":1.5,"interpolate":"monotone"},"encoding":{"x":{"field":"t","type":"quantitative","scale":{"domain":[0,175],"nice":false,"zero":false},"axis":null},"y":{"field":"i","type":"quantitative","scale":{"domain":[-3.725,2.025],"nice":false,"zero":false},"axis":null},"stroke":{"field":"s","type":"nominal","legend":null}}},
{"data":{"name":"f2_bar"},"mark":{"type":"rule","color":"#333333","strokeWidth":1.3},"encoding":{"x":{"field":"t1","type":"quantitative","axis":null},"x2":{"field":"t2"},"y":{"field":"i1","type":"quantitative","axis":null},"y2":{"field":"i2"}}},
{"data":{"name":"f2_txt"},"transform":[{"filter":"datum.k=='lab'"}],"mark":{"type":"text","fontSize":21,"color":"#111111"},"encoding":{"x":{"field":"t","type":"quantitative","axis":null},"y":{"field":"i","type":"quantitative","axis":null},"text":{"field":"s"}}},
{"data":{"name":"f2_txt"},"transform":[{"filter":"datum.k=='ttl'"}],"mark":{"type":"text","fontSize":21,"color":"#111111"},"encoding":{"x":{"field":"t","type":"quantitative","axis":null},"y":{"field":"i","type":"quantitative","axis":null},"text":{"field":"s"}}}
]},
{"width":364,"height":230,"layer":[
{"data":{"name":"f3_tr"},"mark":{"type":"line","strokeWidth":1.5,"interpolate":"monotone"},"encoding":{"x":{"field":"t","type":"quantitative","scale":{"domain":[0,121.33],"nice":false,"zero":false},"axis":null},"y":{"field":"i","type":"quantitative","scale":{"domain":[-3.925,1.825],"nice":false,"zero":false},"axis":null},"stroke":{"field":"s","type":"nominal","legend":null}}},
{"data":{"name":"f3_bar"},"mark":{"type":"rule","color":"#333333","strokeWidth":1.3},"encoding":{"x":{"field":"t1","type":"quantitative","axis":null},"x2":{"field":"t2"},"y":{"field":"i1","type":"quantitative","axis":null},"y2":{"field":"i2"}}},
{"data":{"name":"f3_txt"},"transform":[{"filter":"datum.k=='lab'"}],"mark":{"type":"text","fontSize":21,"color":"#111111"},"encoding":{"x":{"field":"t","type":"quantitative","axis":null},"y":{"field":"i","type":"quantitative","axis":null},"text":{"field":"s"}}},
{"data":{"name":"f3_txt"},"transform":[{"filter":"datum.k=='ttl'"}],"mark":{"type":"text","fontSize":21,"color":"#111111"},"encoding":{"x":{"field":"t","type":"quantitative","axis":null},"y":{"field":"i","type":"quantitative","axis":null},"text":{"field":"s"}}}
]}
],"spacing":0,"bounds":"flush"},
{"hconcat":[
{"width":370,"height":210,"layer":[
{"data":{"name":"f4_tr"},"mark":{"type":"line","strokeWidth":1.5,"interpolate":"monotone"},"encoding":{"x":{"field":"t","type":"quantitative","scale":{"domain":[0,123.33],"nice":false,"zero":false},"axis":null},"y":{"field":"i","type":"quantitative","scale":{"domain":[-2.76,1.44],"nice":false,"zero":false},"axis":null},"stroke":{"field":"s","type":"nominal","legend":null}}},
{"data":{"name":"f4_bar"},"mark":{"type":"rule","color":"#333333","strokeWidth":1.3},"encoding":{"x":{"field":"t1","type":"quantitative","axis":null},"x2":{"field":"t2"},"y":{"field":"i1","type":"quantitative","axis":null},"y2":{"field":"i2"}}},
{"data":{"name":"f4_txt"},"transform":[{"filter":"datum.k=='lab'"}],"mark":{"type":"text","fontSize":21,"color":"#111111"},"encoding":{"x":{"field":"t","type":"quantitative","axis":null},"y":{"field":"i","type":"quantitative","axis":null},"text":{"field":"s"}}},
{"data":{"name":"f4_txt"},"transform":[{"filter":"datum.k=='ttl'"}],"mark":{"type":"text","fontSize":21,"color":"#111111"},"encoding":{"x":{"field":"t","type":"quantitative","axis":null},"y":{"field":"i","type":"quantitative","axis":null},"text":{"field":"s"}}}
]},
{"width":350,"height":210,"layer":[
{"data":{"name":"f5_tr"},"mark":{"type":"line","strokeWidth":1.5,"interpolate":"monotone"},"encoding":{"x":{"field":"t","type":"quantitative","scale":{"domain":[0,437.5],"nice":false,"zero":false},"axis":null},"y":{"field":"i","type":"quantitative","scale":{"domain":[-3.72,2.58],"nice":false,"zero":false},"axis":null},"stroke":{"field":"s","type":"nominal","legend":null}}},
{"data":{"name":"f5_bar"},"mark":{"type":"rule","color":"#333333","strokeWidth":1.3},"encoding":{"x":{"field":"t1","type":"quantitative","axis":null},"x2":{"field":"t2"},"y":{"field":"i1","type":"quantitative","axis":null},"y2":{"field":"i2"}}},
{"data":{"name":"f5_txt"},"transform":[{"filter":"datum.k=='lab'"}],"mark":{"type":"text","fontSize":21,"color":"#111111"},"encoding":{"x":{"field":"t","type":"quantitative","axis":null},"y":{"field":"i","type":"quantitative","axis":null},"text":{"field":"s"}}},
{"data":{"name":"f5_txt"},"transform":[{"filter":"datum.k=='ttl'"}],"mark":{"type":"text","fontSize":21,"color":"#111111"},"encoding":{"x":{"field":"t","type":"quantitative","axis":null},"y":{"field":"i","type":"quantitative","axis":null},"text":{"field":"s"}}}
]},
{"width":364,"height":210,"layer":[
{"data":{"name":"f6_tr"},"mark":{"type":"line","strokeWidth":1.5,"interpolate":"monotone"},"encoding":{"x":{"field":"t","type":"quantitative","scale":{"domain":[0,121.33],"nice":false,"zero":false},"axis":null},"y":{"field":"i","type":"quantitative","scale":{"domain":[-2.48,1.72],"nice":false,"zero":false},"axis":null},"stroke":{"field":"s","type":"nominal","legend":null}}},
{"data":{"name":"f6_bar"},"mark":{"type":"rule","color":"#333333","strokeWidth":1.3},"encoding":{"x":{"field":"t1","type":"quantitative","axis":null},"x2":{"field":"t2"},"y":{"field":"i1","type":"quantitative","axis":null},"y2":{"field":"i2"}}},
{"data":{"name":"f6_txt"},"transform":[{"filter":"datum.k=='lab'"}],"mark":{"type":"text","fontSize":21,"color":"#111111"},"encoding":{"x":{"field":"t","type":"quantitative","axis":null},"y":{"field":"i","type":"quantitative","axis":null},"text":{"field":"s"}}},
{"data":{"name":"f6_txt"},"transform":[{"filter":"datum.k=='ttl'"}],"mark":{"type":"text","fontSize":21,"color":"#111111"},"encoding":{"x":{"field":"t","type":"quantitative","axis":null},"y":{"field":"i","type":"quantitative","axis":null},"text":{"field":"s"}}}
]}
],"spacing":0,"bounds":"flush"},
{"hconcat":[
{"width":370,"height":220,"layer":[
{"data":{"name":"f7_tr"},"mark":{"type":"line","strokeWidth":1.5,"interpolate":"monotone"},"encoding":{"x":{"field":"t","type":"quantitative","scale":{"domain":[0,925],"nice":false,"zero":false},"axis":null},"y":{"field":"i","type":"quantitative","scale":{"domain":[-4.08,13.52],"nice":false,"zero":false},"axis":null},"stroke":{"field":"s","type":"nominal","legend":null}}},
{"data":{"name":"f7_bar"},"mark":{"type":"rule","color":"#333333","strokeWidth":1.3},"encoding":{"x":{"field":"t1","type":"quantitative","axis":null},"x2":{"field":"t2"},"y":{"field":"i1","type":"quantitative","axis":null},"y2":{"field":"i2"}}},
{"data":{"name":"f7_txt"},"transform":[{"filter":"datum.k=='lab'"}],"mark":{"type":"text","fontSize":21,"color":"#111111"},"encoding":{"x":{"field":"t","type":"quantitative","axis":null},"y":{"field":"i","type":"quantitative","axis":null},"text":{"field":"s"}}},
{"data":{"name":"f7_txt"},"transform":[{"filter":"datum.k=='ttl'"}],"mark":{"type":"text","fontSize":21,"color":"#111111"},"encoding":{"x":{"field":"t","type":"quantitative","axis":null},"y":{"field":"i","type":"quantitative","axis":null},"text":{"field":"s"}}}
]},
{"width":350,"height":220,"layer":[
{"data":{"name":"f8_tr"},"mark":{"type":"line","strokeWidth":1.5,"interpolate":"monotone"},"encoding":{"x":{"field":"t","type":"quantitative","scale":{"domain":[0,875],"nice":false,"zero":false},"axis":null},"y":{"field":"i","type":"quantitative","scale":{"domain":[-6.24,20.16],"nice":false,"zero":false},"axis":null},"stroke":{"field":"s","type":"nominal","legend":null}}},
{"data":{"name":"f8_bar"},"mark":{"type":"rule","color":"#333333","strokeWidth":1.3},"encoding":{"x":{"field":"t1","type":"quantitative","axis":null},"x2":{"field":"t2"},"y":{"field":"i1","type":"quantitative","axis":null},"y2":{"field":"i2"}}},
{"data":{"name":"f8_txt"},"transform":[{"filter":"datum.k=='lab'"}],"mark":{"type":"text","fontSize":21,"color":"#111111"},"encoding":{"x":{"field":"t","type":"quantitative","axis":null},"y":{"field":"i","type":"quantitative","axis":null},"text":{"field":"s"}}},
{"data":{"name":"f8_txt"},"transform":[{"filter":"datum.k=='ttl'"}],"mark":{"type":"text","fontSize":21,"color":"#111111"},"encoding":{"x":{"field":"t","type":"quantitative","axis":null},"y":{"field":"i","type":"quantitative","axis":null},"text":{"field":"s"}}}
]},
{"width":364,"height":220,"layer":[
{"data":{"name":"f9_tr"},"mark":{"type":"line","strokeWidth":1.5,"interpolate":"monotone"},"encoding":{"x":{"field":"t","type":"quantitative","scale":{"domain":[0,910],"nice":false,"zero":false},"axis":null},"y":{"field":"i","type":"quantitative","scale":{"domain":[-8.25,24.75],"nice":false,"zero":false},"axis":null},"stroke":{"field":"s","type":"nominal","legend":null}}},
{"data":{"name":"f9_bar"},"mark":{"type":"rule","color":"#333333","strokeWidth":1.3},"encoding":{"x":{"field":"t1","type":"quantitative","axis":null},"x2":{"field":"t2"},"y":{"field":"i1","type":"quantitative","axis":null},"y2":{"field":"i2"}}},
{"data":{"name":"f9_txt"},"transform":[{"filter":"datum.k=='lab'"}],"mark":{"type":"text","fontSize":21,"color":"#111111"},"encoding":{"x":{"field":"t","type":"quantitative","axis":null},"y":{"field":"i","type":"quantitative","axis":null},"text":{"field":"s"}}},
{"data":{"name":"f9_txt"},"transform":[{"filter":"datum.k=='ttl'"}],"mark":{"type":"text","fontSize":21,"color":"#111111"},"encoding":{"x":{"field":"t","type":"quantitative","axis":null},"y":{"field":"i","type":"quantitative","axis":null},"text":{"field":"s"}}}
]}
],"spacing":0,"bounds":"flush"}
],
"config":{"view":{"stroke":null},"font":"Liberation Sans"}
}
